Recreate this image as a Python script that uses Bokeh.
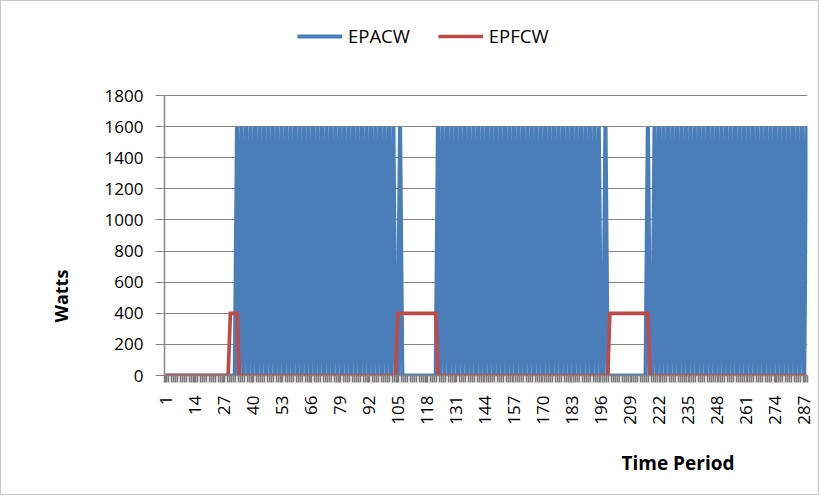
import math
from bokeh.plotting import figure
from bokeh.models import (Range1d, FixedTicker, Legend, LegendItem, Title,
                          ColumnDataSource)
from bokeh.embed import file_html
from bokeh.resources import INLINE

# ---- data ----
periods = list(range(1, 289))
x_tick_labels = [1, 14, 27, 40, 53, 66, 79, 92, 105, 118, 131, 144, 157, 170,
                 183, 196, 209, 222, 235, 248, 261, 274, 287]
y_ticks = [0, 200, 400, 600, 800, 1000, 1200, 1400, 1600, 1800]

epacw = [
    0, 0, 0, 0, 0, 0, 0, 0, 0, 0, 0, 0, 0, 0, 0, 0,
    0, 0, 0, 0, 0, 0, 0, 0, 0, 0, 0, 0, 0, 0, 0, 0,
    1600, 0, 1600, 0, 1600, 0, 1600, 0, 1600, 0, 1600, 0, 1600, 0, 1600, 0,
    1600, 0, 1600, 0, 1600, 0, 1600, 0, 1600, 0, 1600, 0, 1600, 0, 1600, 0,
    1600, 0, 1600, 0, 1600, 0, 1600, 0, 1600, 0, 1600, 0, 1600, 0, 1600, 0,
    1600, 0, 1600, 0, 1600, 0, 1600, 0, 1600, 0, 1600, 0, 1600, 0, 1600, 0,
    1600, 0, 1600, 0, 1600, 0, 1600,
    0, 0, 1600,
    0, 0, 0, 0, 0, 0, 0, 0, 0, 0, 0, 0, 0, 0, 0, 0,
    1600, 0, 1600, 0, 1600, 0, 1600, 0, 1600, 0, 1600, 0, 1600, 0, 1600, 0,
    1600, 0, 1600, 0, 1600, 0, 1600, 0, 1600, 0, 1600, 0, 1600, 0, 1600, 0,
    1600, 0, 1600, 0, 1600, 0, 1600, 0, 1600, 0, 1600, 0, 1600, 0, 1600, 0,
    1600, 0, 1600, 0, 1600, 0, 1600, 0, 1600, 0, 1600, 0, 1600, 0, 1600, 0,
    1600, 0, 1600, 0, 1600, 0, 1600, 0, 1600,
    0, 0, 1600,
    0, 0, 0, 0, 0, 0, 0, 0, 0, 0, 0, 0, 0, 0, 0, 0, 0, 0,
    1600, 0, 0,
    1600, 0, 1600, 0, 1600, 0, 1600, 0, 1600, 0, 1600, 0, 1600, 0, 1600, 0,
    1600, 0, 1600, 0, 1600, 0, 1600, 0, 1600, 0, 1600, 0, 1600, 0, 1600, 0,
    1600, 0, 1600, 0, 1600, 0, 1600, 0, 1600, 0, 1600, 0, 1600, 0, 1600, 0,
    1600, 0, 1600, 0, 1600, 0, 1600, 0, 1600, 0, 1600, 0, 1600, 0, 1600, 0,
    1600, 0, 1600, 0, 1600,
]

epfcw = (
    [0] * 29 + [400] * 4 + [0] * 71 + [400] * 18 + [0] * 77 + [400] * 18 + [0] * 71
)

assert len(epacw) == 288 and len(epfcw) == 288

src = ColumnDataSource(dict(t=periods, epacw=epacw, epfcw=epfcw))

FONT = "Open Sans"
GRAY = "#868686"

# canvas 819x495 inside a 1px border; plot area x 164..807, y(1800)=95 .. y(0)=375
# on the page. The frame is extended up to the top so the legend sits inside it.
Y_TOP = 1800 + 94 * 1800 / 280

p = figure(width=819, height=495, output_backend="svg", toolbar_location=None,
           x_range=Range1d(0.5, 288.5), y_range=Range1d(0, Y_TOP),
           min_border_left=163, min_border_right=13, min_border_top=0,
           min_border_bottom=121)
p.styles = {"border": "1px solid #c8c8c8"}
p.outline_line_color = None
p.background_fill_color = "white"
p.border_fill_color = "white"

blue = p.line("t", "epacw", source=src, line_color="#4A7EBB", line_width=4.2,
              line_join="bevel")
red = p.line("t", "epfcw", source=src, line_color="#BE4B48", line_width=3.7,
             line_join="miter")

# axes
p.xgrid.visible = False
p.ygrid.grid_line_color = GRAY
p.ygrid.grid_line_width = 1.2
p.ygrid.ticker = FixedTicker(ticks=y_ticks)

p.yaxis.ticker = FixedTicker(ticks=y_ticks)
p.yaxis.bounds = (0, 1800)
p.yaxis.axis_line_color = GRAY
p.yaxis.axis_line_width = 1.5
p.yaxis.major_tick_line_color = GRAY
p.yaxis.major_tick_line_width = 1.2
p.yaxis.major_tick_out = 9
p.yaxis.major_tick_in = 0
p.yaxis.minor_tick_line_color = None
p.yaxis.major_label_standoff = 12
p.yaxis.major_label_text_font = FONT
p.yaxis.major_label_text_font_size = "17px"
p.yaxis.major_label_text_color = "black"

p.xaxis.ticker = FixedTicker(ticks=x_tick_labels,
                             minor_ticks=[k + 0.5 for k in range(0, 289)])
p.xaxis.axis_line_color = GRAY
p.xaxis.axis_line_width = 1.5
p.xaxis.major_tick_line_color = GRAY
p.xaxis.major_tick_line_width = 1.5
p.xaxis.major_tick_out = 7
p.xaxis.major_tick_in = 0
p.xaxis.minor_tick_line_color = "#7a7a7a"
p.xaxis.minor_tick_line_width = 1.6
p.xaxis.minor_tick_out = 7
p.xaxis.minor_tick_in = 0
p.xaxis.major_label_orientation = math.pi / 2
p.xaxis.major_label_standoff = 13
p.xaxis.major_label_text_font = FONT
p.xaxis.major_label_text_font_size = "17px"
p.xaxis.major_label_text_color = "black"

# axis titles as side titles (off-centre like the original)
p.add_layout(Title(text="Watts", align="left", offset=53, standoff=58,
                   text_font=FONT, text_font_size="18px",
                   text_font_style="bold", text_color="black"), "left")
p.add_layout(Title(text="Time Period", align="left", offset=457, standoff=40,
                   text_font=FONT, text_font_size="19px",
                   text_font_style="bold", text_color="black"), "below")

legend = Legend(items=[LegendItem(label="EPACW", renderers=[blue]),
                       LegendItem(label="EPFCW", renderers=[red])],
                orientation="horizontal", location=(133, 327),
                border_line_color=None, background_fill_alpha=0,
                padding=0, margin=0, spacing=28, glyph_width=45,
                glyph_height=20, label_height=20, label_standoff=6,
                label_text_font=FONT, label_text_font_size="18.5px",
                label_text_color="black")
p.add_layout(legend, "center")

open("out.html", "w").write(file_html(p, INLINE))
